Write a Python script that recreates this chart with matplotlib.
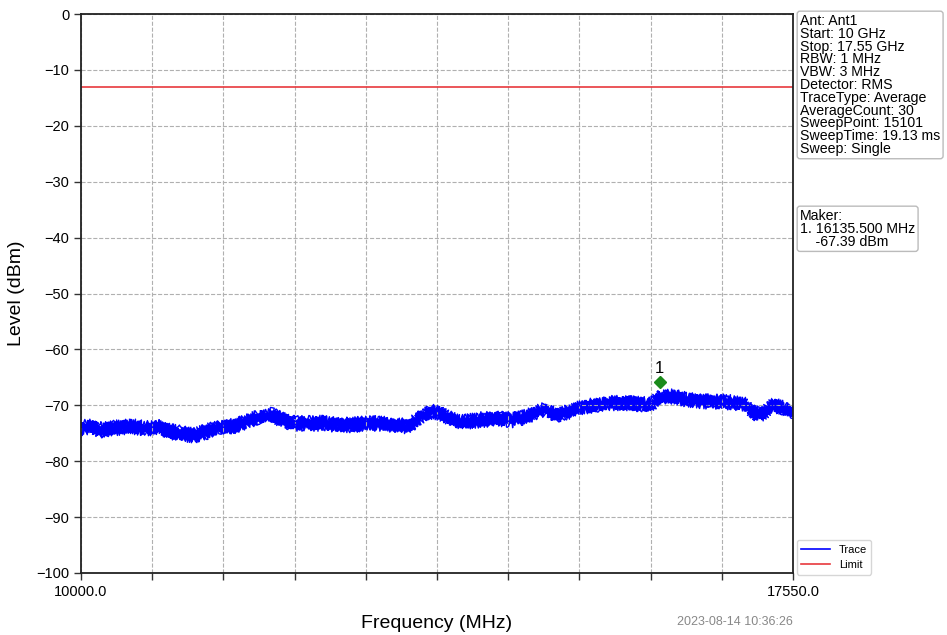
import matplotlib
matplotlib.use("Agg")
import matplotlib.pyplot as plt
from matplotlib.lines import Line2D

plt.rcParams['font.family'] = ['Liberation Sans', 'DejaVu Sans']

# ---- data ----
freq_mhz = [10000, 10127, 10201, 10361, 10520, 10700, 10806, 10944, 11124, 11188,
            11336, 11474, 11612, 11760, 11898, 12025, 12131, 12269, 12556, 12725,
            12906, 13086, 13330, 13467, 13616, 13722, 13807, 13945, 14051, 14231,
            14411, 14581, 14729, 14899, 15047, 15185, 15323, 15472, 15609, 15821,
            16034, 16140, 16278, 16426, 16596, 16776, 16956, 17062, 17126, 17232,
            17338, 17444, 17550]
trace_upper = [-73.2, -73.1, -73.6, -73.3, -73.0, -73.4, -73.1, -73.9, -74.4, -74.7,
               -73.9, -73.1, -73.0, -72.2, -71.3, -71.0, -71.8, -72.5, -72.4, -72.8,
               -72.7, -72.4, -72.8, -73.0, -71.3, -70.4, -70.7, -71.9, -72.3, -71.8,
               -71.7, -71.8, -71.3, -70.1, -71.0, -70.4, -69.6, -69.2, -68.9, -68.8,
               -69.2, -67.9, -67.7, -68.3, -68.6, -68.5, -68.9, -69.2, -70.7, -70.8,
               -69.2, -69.8, -70.4]
trace_lower = [-74.8, -74.6, -75.2, -74.8, -74.5, -74.9, -74.6, -75.5, -76.0, -76.2,
               -75.5, -74.6, -74.6, -73.6, -72.7, -72.5, -73.4, -74.0, -74.0, -74.2,
               -74.3, -74.0, -74.2, -74.5, -72.7, -71.8, -72.1, -73.3, -73.7, -73.4,
               -73.1, -73.4, -72.7, -71.5, -72.4, -71.8, -71.0, -70.6, -70.3, -70.4,
               -70.6, -69.4, -69.1, -69.7, -70.0, -70.1, -70.3, -70.6, -72.3, -72.2,
               -70.6, -71.2, -71.8]
limit_dbm = -13.0
marker_freq = 16135.5
marker_level = -67.39
marker_plot_level = -65.8
x_ticks = [10000, 10755, 11510, 12265, 13020, 13775, 14530, 15285, 16040, 16795, 17550]
x_tick_labels = ["10000.0", "", "", "", "", "", "", "", "", "", "17550.0"]
y_ticks = [0, -10, -20, -30, -40, -50, -60, -70, -80, -90, -100]

info_lines = ["Ant: Ant1", "Start: 10 GHz", "Stop: 17.55 GHz", "RBW: 1 MHz", "VBW: 3 MHz",
              "Detector: RMS", "TraceType: Average", "AverageCount: 30",
              "SweepPoint: 15101", "SweepTime: 19.13 ms", "Sweep: Single"]
timestamp = "2023-08-14 10:36:26"

fig = plt.figure(figsize=(9.47, 6.35), dpi=100)
ax = fig.add_axes([81/947, 1-573/635, (793-81)/947, (573-14)/635])

# trace band (envelope of the noisy trace), drawn with a jagged sketch style
poly_x = freq_mhz + freq_mhz[::-1]
poly_y = trace_upper + trace_lower[::-1]
patches = ax.fill(poly_x, poly_y, facecolor='#0000ff', edgecolor='#0000ff', linewidth=1.4)
for p in patches:
    p.set_sketch_params(scale=2.5, length=1.5, randomness=4.0)
for edge in (trace_upper, trace_lower):
    ln, = ax.plot(freq_mhz, edge, color='#0000ff', linewidth=1.0)
    ln.set_sketch_params(scale=3.6, length=1.2, randomness=4.0)

ax.axhline(limit_dbm, color='#e8383d', linewidth=1.2)
ax.plot([marker_freq], [marker_plot_level], marker='D', color='#1a8a1a', markersize=6.5,
        linestyle='none')
ax.text(marker_freq, marker_plot_level + 1.1, "1", ha='center', va='bottom', fontsize=12)

ax.set_xlim(10000, 17550)
ax.set_ylim(-100, 0)
ax.set_xticks(x_ticks)
ax.set_xticklabels(x_tick_labels)
ax.set_yticks(y_ticks)
ax.set_yticklabels([str(v).replace('-', '\u2212') for v in y_ticks])
ax.tick_params(axis='both', labelsize=10.5, direction='out', length=5, width=1,
               color='#333333')
ax.tick_params(axis='x', pad=4)
ax.grid(True, linestyle='--', color='#b0b0b0', linewidth=0.8)
for s in ax.spines.values():
    s.set_linewidth(1.3)
    s.set_color('#222222')

ax.set_xlabel("Frequency (MHz)", fontsize=14, labelpad=11)
ax.set_ylabel("Level (dBm)", fontsize=14, labelpad=8)

handles = [Line2D([], [], color='#0000ff', linewidth=1.2),
           Line2D([], [], color='#e8383d', linewidth=1.2)]
leg = ax.legend(handles, ['Trace', 'Limit'], loc='lower left',
                bbox_to_anchor=(1.005, -0.003), fontsize=8, frameon=True,
                borderaxespad=0.0, handlelength=2.6)
leg.get_frame().set_edgecolor('#cccccc')

fig.text(800/947, 1-14/635, "\n".join(info_lines), fontsize=10.2, va='top', ha='left',
         linespacing=0.89,
         bbox=dict(boxstyle='round,pad=0.2', facecolor='white', edgecolor='#bbbbbb'))
fig.text(800/947, 1-209/635,
         "Maker:\n1. %.3f MHz\n    %.2f dBm" % (marker_freq, marker_level),
         fontsize=10.2, va='top', ha='left', linespacing=0.89,
         bbox=dict(boxstyle='round,pad=0.2', facecolor='white', edgecolor='#bbbbbb'))
fig.text(793/947, 1-622/635, timestamp, fontsize=9, color='#888888', ha='right',
         va='center')

fig.savefig("out.png", dpi=100)
